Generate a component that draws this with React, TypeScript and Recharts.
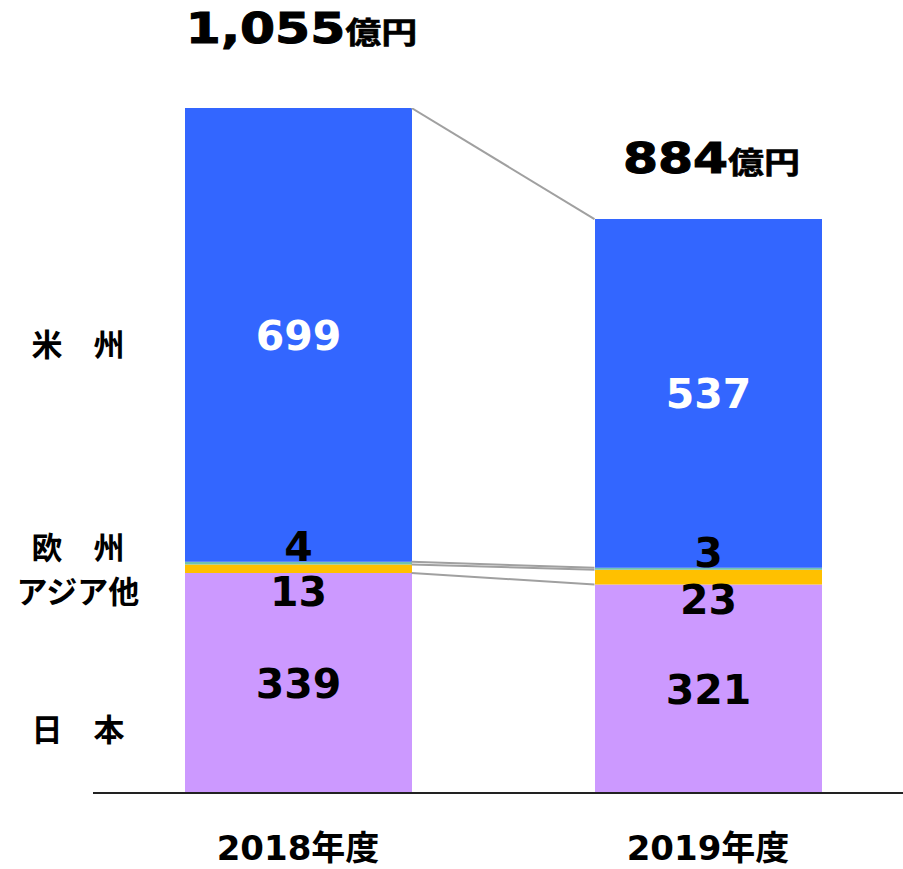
import { ComposedChart, Bar, Line, XAxis, YAxis, LabelList, Customized } from 'recharts';

// sales by region (億円)
const YEARS = ['2018年度', '2019年度'];
const JAPAN = [339, 321];
const ASIA = [13, 23];
const EUROPE = [4, 3];
const AMERICAS = [699, 537];
const REGIONS = ['米　州', '欧　州', 'アジア他', '日　本'];

const TOTALS = YEARS.map((_, i) => JAPAN[i] + ASIA[i] + EUROPE[i] + AMERICAS[i]);

// layout (chart is 10px wider than the page so the two bands are 410px each)
const W = 913;
const H = 869;
const M = { top: 108, right: 0, bottom: 0, left: 93 };
const BAR_W = 227;
const BAND = (W - M.left - M.right) / YEARS.length;
const X_MIN = -0.5;
const X_MAX = YEARS.length - 0.5;
const EDGE = BAR_W / 2 / BAND;

const FONT = "'DejaVu Sans', 'Noto Sans CJK JP', sans-serif";
const JP_FONT = "'Noto Sans CJK JP', sans-serif";
const SEG_FONT = 41;
const TOTAL_GAP = [65, 46];
const REGION_Y = [345, 548, 592, 730];

const chartData = YEARS.map((name, i) => ({
    name,
    japan: JAPAN[i],
    asia: ASIA[i],
    europe: EUROPE[i],
    americas: AMERICAS[i],
}));

// connector lines run from the right edge of one bar to the left edge of the next
const connectorData = YEARS.map((_, i) => ({
    pos: i === 0 ? EDGE : 1 - EDGE,
    japanTop: JAPAN[i],
    asiaTop: JAPAN[i] + ASIA[i],
    europeTop: JAPAN[i] + ASIA[i] + EUROPE[i],
    total: TOTALS[i],
}));

const box = (props: any) => {
    const vb = props.viewBox ?? props;
    return { x: Number(vb.x), y: Number(vb.y), width: Number(vb.width), height: Number(vb.height) };
};

const segLabel = (color: string, shift: number) => (props: any) => {
    const b = box(props);
    const cx = b.x + b.width / 2;
    const cy = b.y + b.height / 2 + shift;
    return (
        <text
            x={cx}
            y={cy + 0.365 * SEG_FONT}
            textAnchor="middle"
            fill={color}
            fontSize={SEG_FONT}
            fontWeight="bold"
            fontFamily={FONT}
        >
            {props.value}
        </text>
    );
};

const TotalLabel = (props: any) => {
    const b = box(props);
    const i = props.index ?? 0;
    const cx = b.x + b.width / 2 + 3;
    const base = b.y - TOTAL_GAP[i];
    return (
        <text
            transform={`translate(${cx},${base}) scale(1.2,1)`}
            textAnchor="middle"
            fill="#000"
            stroke="#000"
            strokeWidth={1}
            fontWeight="bold"
            fontFamily={FONT}
        >
            <tspan fontSize={42}>{TOTALS[i].toLocaleString('en-US')}</tspan>
            <tspan fontSize={30} fontFamily={JP_FONT} strokeWidth={0.6}>億円</tspan>
        </text>
    );
};

const YearTick = (props: any) => {
    const { x, y, payload } = props;
    return (
        <text x={x} y={y + 67} textAnchor="middle" fill="#000" fontSize={34} fontWeight="bold" fontFamily={FONT}>
            {payload.value}
        </text>
    );
};

const RegionNames = () => (
    <g>
        {REGIONS.map((r, i) => (
            <text
                key={r}
                x={78}
                y={REGION_Y[i] + 11}
                textAnchor="middle"
                fill="#000"
                fontSize={31}
                fontWeight="bold"
                fontFamily={JP_FONT}
            >
                {r}
            </text>
        ))}
    </g>
);

export default function App() {
    return (
        <div style={{ position: 'absolute', left: 0, top: 0, width: 903, height: H, overflow: 'hidden', background: '#fff' }}>
            <ComposedChart width={W} height={H} data={chartData} margin={M}>
                <XAxis
                    xAxisId="cat"
                    dataKey="name"
                    interval={0}
                    tickLine={false}
                    tickSize={0}
                    tickMargin={0}
                    axisLine={{ stroke: '#222', strokeWidth: 2 }}
                    height={76}
                    tick={<YearTick />}
                />
                <XAxis
                    xAxisId="num"
                    type="number"
                    dataKey="pos"
                    domain={[X_MIN, X_MAX]}
                    allowDataOverflow
                    hide
                />
                <YAxis hide domain={[0, Math.max(...TOTALS)]} allowDataOverflow />
                <Bar xAxisId="cat" dataKey="japan" stackId="a" fill="#cc99ff" barSize={BAR_W} isAnimationActive={false}>
                    <LabelList dataKey="japan" content={segLabel('#000', 0)} />
                </Bar>
                <Bar xAxisId="cat" dataKey="asia" stackId="a" fill="#ffc000" barSize={BAR_W} isAnimationActive={false}>
                    <LabelList dataKey="asia" content={segLabel('#000', 22)} />
                </Bar>
                <Bar xAxisId="cat" dataKey="europe" stackId="a" fill="#72c2ae" barSize={BAR_W} isAnimationActive={false}>
                    <LabelList dataKey="europe" content={segLabel('#000', -17)} />
                </Bar>
                <Bar xAxisId="cat" dataKey="americas" stackId="a" fill="#3366ff" barSize={BAR_W} isAnimationActive={false}>
                    <LabelList dataKey="americas" content={segLabel('#fff', 0)} />
                    <LabelList dataKey="americas" content={TotalLabel} />
                </Bar>
                {['japanTop', 'asiaTop', 'europeTop', 'total'].map(k => (
                    <Line
                        key={k}
                        xAxisId="num"
                        data={connectorData}
                        dataKey={k}
                        stroke="#a0a0a0"
                        strokeWidth={2}
                        dot={false}
                        activeDot={false}
                        isAnimationActive={false}
                    />
                ))}
                <Customized component={<RegionNames />} />
            </ComposedChart>
        </div>
    );
}
